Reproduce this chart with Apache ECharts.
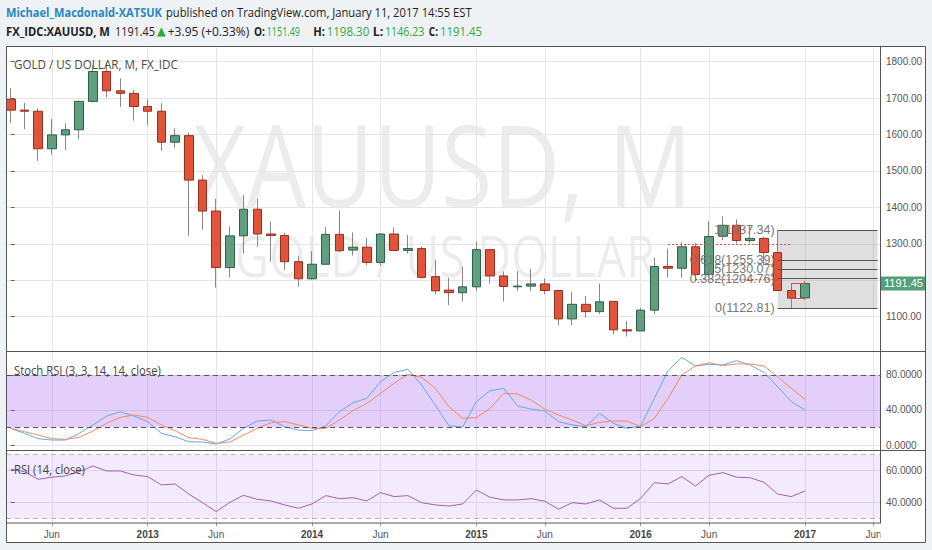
<!DOCTYPE html>
<html><head><meta charset="utf-8">
<script src="https://cdn.jsdelivr.net/npm/echarts@6/dist/echarts.min.js"></script>
<style>html,body{margin:0;padding:0;background:#eff2f5;}#c{width:932px;height:550px;}</style>
</head><body><div id="c"></div>
<script>
// ---------- data ----------
const months = ['2012-03','2012-04','2012-05','2012-06','2012-07','2012-08','2012-09','2012-10','2012-11','2012-12',
  '2013-01','2013-02','2013-03','2013-04','2013-05','2013-06','2013-07','2013-08','2013-09','2013-10','2013-11','2013-12',
  '2014-01','2014-02','2014-03','2014-04','2014-05','2014-06','2014-07','2014-08','2014-09','2014-10','2014-11','2014-12',
  '2015-01','2015-02','2015-03','2015-04','2015-05','2015-06','2015-07','2015-08','2015-09','2015-10','2015-11','2015-12',
  '2016-01','2016-02','2016-03','2016-04','2016-05','2016-06','2016-07','2016-08','2016-09','2016-10','2016-11','2016-12',
  '2017-01'];
const open  = [1697,1667,1664,1561,1599,1613,1691,1773,1720,1713, 1677,1664,1579,1597,1475,1390,1235,1322,1395,1327,1323,1251,
  1204,1244,1326,1283,1291,1249,1327,1282,1287,1210,1173,1166, 1182,1284,1212,1182,1184,1190,1172,1094,1134,1114,1142,1064,
  1061,1118,1238,1233,1292,1216,1321,1351,1309,1315,1276,1172, 1151.49];
const high  = [1727,1687,1672,1643,1631,1693,1790,1796,1754,1722, 1697,1686,1617,1606,1488,1424,1348,1434,1424,1361,1330,1267,
  1280,1346,1392,1331,1316,1330,1345,1324,1293,1256,1207,1238, 1307,1286,1224,1225,1232,1205,1174,1169,1157,1191,1143,1088,
  1124,1263,1287,1304,1303,1362,1375,1367,1352,1319,1337.34,1180, 1198.30];
const low   = [1631,1615,1528,1545,1557,1587,1688,1702,1676,1638, 1627,1555,1564,1322,1339,1180,1208,1273,1292,1251,1228,1182,
  1202,1243,1277,1268,1242,1240,1280,1273,1205,1161,1132,1142, 1170,1191,1142,1170,1170,1162,1077,1077,1098,1107,1052,1046,
  1061,1107,1208,1207,1199,1208,1310,1301,1302,1241,1171,1122.81, 1146.23];
const close = [1667,1664,1561,1599,1613,1691,1773,1720,1713,1677, 1664,1579,1597,1475,1390,1235,1322,1395,1327,1323,1251,1204,
  1244,1326,1281,1291,1249,1327,1282,1287,1208,1171,1166,1182, 1284,1212,1183,1184,1190,1172,1094,1134,1114,1141,1064,1061,
  1118,1238,1233,1292,1216,1320,1351,1309,1315,1276,1172,1151, 1191.45];
const stochK = [19,13.3,7.2,5.7,5.7,13.3,22.9,33,38,33, 26.7,13.3,9.5,3.8,3.4,1.1,6.9,19,27.4,28.6,
  21,17,16.4,21.7,38,48.4,53.3,72.4,83,86.5, 68.6,45.7,22,20.5,49.5,62,64.8,44.6,41,38.9,
  26.7,22.9,21,36.2,24.8,19,21.7,53.3,85,100, 90.3,92.2,91.4,96.4,91.4,83,66.7,49.5,40];
const stochD = [19,15.2,11.4,7.2,6.5,8.8,16,24.8,31.6,34.3, 31.6,22.9,16.4,8.4,6.5,1.9,3.4,11.4,19,25.5,
  26.7,22.9,19,19,28.6,39.2,47.6,59,70.5,80.8, 77.3,64.8,43.8,30.5,31.2,41.9,59,58.3,51.4,41,
  34.3,28.6,22,25.9,27.4,27.4,21,30.5,53.3,80, 90.3,94,90.7,92.6,92.6,90.3,78,64.8,52.2];
const rsi = [60.9,59.4,54.6,55.9,56.7,59.4,62.9,59.8,59.8,57.3, 56.3,51.1,51.7,45.4,40,34.4,40.2,44.6,42.1,41.1,
  38.6,36.5,39.2,44.4,42.5,43.1,41.1,46.3,43.8,44.4, 40,38.6,37.9,39.2,47.9,43.4,41.7,41.7,42.5,40.9,
  35.9,40,39.2,41.7,36.5,36.5,42.7,52.5,51.7,56.3, 50.4,57.1,58.8,55.9,55.6,52.7,45.4,43.8,47.3];
const tickMonths = ['2012-06','2013-01','2013-06','2014-01','2014-06','2015-01','2015-06','2016-01','2016-06','2017-01','2017-06'];
const tickTexts  = ['Jun','2013','Jun','2014','Jun','2015','Jun','2016','Jun','2017','Jun'];
const priceTicks = [1100,1200,1300,1400,1500,1600,1700,1800];
const priceLabels = [1100,1300,1400,1500,1600,1700,1800];
const stochTicks = [0,40,80];
const rsiTicks = [40,60];
const stochBand = [20,80];
const rsiBand = [30,70];
const fibLevels = ['1','0.618','0.5','0.382','0'];
const fibPrices = [1337.34,1255.39,1230.07,1204.76,1122.81];
const fibFrom = '2016-11';
const redDotted = [['2016-03','2016-12',1300],['2016-05','2016-11',1204]];
const redBox = ['2016-12','2017-01',1150.5,1191.7];
const lastPrice = 1191.45;

// ---------- helpers ----------
function mi(s){ const [y,m]=s.split('-').map(Number); return (y-2012)*12 + (m-3); }
const X_MIN = -0.348, X_MAX = 63.476;
const xs = months.map(mi);
const tickIdx = tickMonths.map(mi);
const wickData = xs.map((x,k)=>[x, open[k], close[k], low[k], high[k]]);
const bodyData = xs.map((x,k)=>[x, open[k], close[k], Math.min(open[k],close[k]), Math.max(open[k],close[k])]);

const mctx = document.createElement('canvas').getContext('2d');
function fitText(text, x0, x1, cy, size, weight, family, color, z){
  mctx.font = weight+' '+size+'px '+family;
  const w = mctx.measureText(text).width || 1;
  return {type:'text', x:x0, y:cy, scaleX:(x1-x0)/w, z:z, silent:true,
    style:{text:text, fontSize:size, fontWeight:weight, fontFamily:family, fill:color,
      align:'left', verticalAlign:'middle', textAlign:'left', textVerticalAlign:'middle'}};
}
const OS = 'Open Sans';
const LS = 'Liberation Sans';
const GREEN = '#33a83a';

const graphics = [
  {type:'rect', z:-100, silent:true, shape:{x:6,y:46,width:920,height:497}, style:{fill:'#ffffff'}},
  fitText('XAUUSD, M', 193, 692, 163, 113, 'normal', OS, 'rgba(0,0,0,0.075)', -50),
  fitText('GOLD / US DOLLAR', 235, 655, 255, 56, 'normal', OS, 'rgba(0,0,0,0.075)', -50),
  // header
  fitText('Michael_Macdonald-XATSUK', 6, 162, 12.5, 13, 'bold', OS, '#2b86c0', 50),
  fitText('published on TradingView.com, January 11, 2017 14:55 EST', 166, 472, 12.5, 13, 'normal', OS, '#222', 50),
  fitText('FX_IDC:XAUUSD, M', 6, 110, 31.3, 12, 'bold', OS, '#222', 50),
  fitText('1191.45', 115, 155, 31.3, 12, 'normal', OS, '#222', 50),
  fitText('\u25B2', 157, 165.7, 31.3, 12, 'normal', 'DejaVu Sans', GREEN, 50),
  fitText('+3.95 (+0.33%)', 167.7, 249.3, 31.3, 12, 'normal', OS, '#222', 50),
  fitText('O:', 254, 265, 31.3, 12, 'bold', OS, '#222', 50),
  fitText('1151.49', 266.7, 300, 31.3, 12, 'normal', OS, GREEN, 50),
  fitText('H:', 313.3, 325, 31.3, 12, 'bold', OS, '#222', 50),
  fitText('1198.30', 326.7, 369.3, 31.3, 12, 'normal', OS, GREEN, 50),
  fitText('L:', 372.7, 383.3, 31.3, 12, 'bold', OS, '#222', 50),
  fitText('1146.23', 385, 424.4, 31.3, 12, 'normal', OS, GREEN, 50),
  fitText('C:', 428.8, 438, 31.3, 12, 'bold', OS, '#222', 50),
  fitText('1191.45', 440, 482, 31.3, 12, 'normal', OS, GREEN, 50),
  // pane titles
  fitText('GOLD / US DOLLAR, M, FX_IDC', 14, 178, 64.2, 12, 'normal', OS, '#4a4a4a', 50),
  fitText('Stoch RSI (3, 3, 14, 14, close)', 14, 161, 369.7, 13, 'normal', OS, '#444', 50),
  fitText('RSI (14, close)', 14, 85, 468.7, 13, 'normal', OS, '#444', 50),
  // frame
  {type:'rect', z:40, silent:true, shape:{x:880.5,y:523.5,width:45,height:19}, style:{fill:'#fff'}},
  {type:'rect', z:50, silent:true, shape:{x:6.5,y:46.5,width:919,height:496}, style:{fill:'none', stroke:'#555', lineWidth:1}},
  {type:'line', z:50, silent:true, shape:{x1:6,y1:351.5,x2:926,y2:351.5}, style:{stroke:'#555', lineWidth:1}},
  {type:'line', z:50, silent:true, shape:{x1:6,y1:450.5,x2:926,y2:450.5}, style:{stroke:'#555', lineWidth:1}},
  {type:'line', z:50, silent:true, shape:{x1:880.5,y1:46,x2:880.5,y2:523}, style:{stroke:'#555', lineWidth:1}},
  {type:'line', z:50, silent:true, shape:{x1:6,y1:523,x2:881,y2:523}, style:{stroke:'#555', lineWidth:1}}
];

function xAxisOf(gi, showLabels){
  return {type:'value', gridIndex:gi, min:X_MIN, max:X_MAX,
    axisLine:{show:false},
    axisTick:{show:showLabels, customValues:tickIdx, length:3, lineStyle:{color:'#999'}},
    axisLabel:{show:showLabels, customValues:tickIdx, margin:6, color:'#555', fontSize:10, fontFamily:LS,
      formatter: v => { const k = tickIdx.indexOf(Math.round(v)); const t = k<0?'':tickTexts[k]; return /^\d{4}$/.test(t) ? '{y|'+t+'}' : t; },
      rich:{y:{fontWeight:'bold', fontSize:10, color:'#444', fontFamily:LS}}},
    splitLine:{show:true, lineStyle:{color:'#e6e6e6', width:1}}};
}
function yAxisOf(gi, min, max, ticks, labels, dec){
  return {type:'value', gridIndex:gi, position:'right', min:min, max:max,
    axisLine:{show:false},
    axisTick:{show:true, customValues:ticks, length:4, lineStyle:{color:'#666'}},
    axisLabel:{customValues:labels, margin:6, color:'#555', fontSize:10, fontFamily:LS, formatter: v => Number(v).toFixed(dec)},
    splitLine:{show:true, lineStyle:{color:'#e6e6e6', width:1}}};
}

const fibX0 = mi(fibFrom), fibX1 = 63.3;
const fibLines = fibPrices.map((p,k)=>[
  {coord:[fibX0,p], lineStyle:{color:'#555', width:1, type:'solid'},
   label:{show:true, position:'start', distance:3, formatter: fibLevels[k]+'('+p.toFixed(2)+')', color:'#777', fontSize:12.5, fontFamily:LS}},
  {coord:[fibX1,p]}]);
const redLines = redDotted.map(d=>[
  {coord:[mi(d[0]), d[2]], lineStyle:{color:'#e04848', width:1, type:[2,2]}, label:{show:false}},
  {coord:[mi(d[1]), d[2]]}]);
const bx0 = mi(redBox[0]), bx1 = mi(redBox[1]);
const boxLines = [
  [{coord:[bx0, redBox[2]], lineStyle:{color:'#e04848', width:1, type:'solid'}, label:{show:false}}, {coord:[bx1, redBox[2]]}],
  [{coord:[bx0, redBox[3]], lineStyle:{color:'#e04848', width:1, type:'solid'}, label:{show:false}}, {coord:[bx1, redBox[3]]}],
  [{coord:[bx0, redBox[2]], lineStyle:{color:'#e04848', width:1, type:'solid'}, label:{show:false}}, {coord:[bx0, redBox[3]]}]
];

const option = {
  backgroundColor:'#eff2f5',
  animation:false,
  textStyle:{fontFamily:LS},
  graphic:{elements:graphics},
  grid:[
    {left:6, top:46, width:874, height:305.7, outerBoundsMode:'none'},
    {left:6, top:351.7, width:874, height:98.3, outerBoundsMode:'none'},
    {left:6, top:450, width:874, height:73, outerBoundsMode:'none'}
  ],
  xAxis:[xAxisOf(0,false), xAxisOf(1,false), xAxisOf(2,true)],
  yAxis:[yAxisOf(0,1004,1843,priceTicks,priceLabels,2), yAxisOf(1,-5.7,106.6,stochTicks,stochTicks,4), yAxisOf(2,27.3,72.9,rsiTicks,rsiTicks,4)],
  series:[
    {type:'candlestick', name:'wick', xAxisIndex:0, yAxisIndex:0, data:wickData, encode:{x:0, y:[1,2,3,4]},
     barWidth:1, z:2, silent:true,
     itemStyle:{color:'#888', color0:'#888', borderColor:'#888', borderColor0:'#888', borderWidth:1},
     markArea:{silent:true, itemStyle:{color:'rgba(120,120,120,0.24)'},
       data:[[{coord:[fibX0, fibPrices[0]]},{coord:[fibX1, fibPrices[fibPrices.length-1]]}]]}},
    {type:'candlestick', name:'XAUUSD', xAxisIndex:0, yAxisIndex:0, data:bodyData, encode:{x:0, y:[1,2,3,4]},
     barWidth:9, z:3, silent:true,
     itemStyle:{color:'#5f9f7f', color0:'#e2533c', borderColor:'#2f5f48', borderColor0:'#93301f', borderWidth:1},
     markLine:{silent:true, symbol:['none','none'], animation:false,
       data: fibLines.concat(redLines, boxLines)}},
    {type:'line', name:'last', xAxisIndex:0, yAxisIndex:0, data:[], z:10, silent:true,
     markLine:{silent:true, symbol:['none','none'], animation:false,
       data:[{yAxis:lastPrice, lineStyle:{color:'rgba(0,0,0,0)', width:1, type:'solid'},
          label:{show:true, position:'end', distance:1, formatter:lastPrice.toFixed(2), backgroundColor:'#53a078',
                 color:'#ffffff', padding:[2,3,1,3], fontSize:11, fontFamily:LS, opacity:1}}]}},
    {type:'line', name:'K', xAxisIndex:1, yAxisIndex:1, data:xs.map((x,k)=>[x, stochK[k]]), showSymbol:false, symbol:'none',
     lineStyle:{color:'#64a6ee', width:1}, z:3, silent:true,
     markArea:{silent:true, itemStyle:{color:'rgba(139,55,235,0.24)'}, data:[[{yAxis:stochBand[0]},{yAxis:stochBand[1]}]]},
     markLine:{silent:true, symbol:['none','none'], label:{show:false}, lineStyle:{color:'#555', type:[5,4], width:1},
       data:[{yAxis:stochBand[1]},{yAxis:stochBand[0]}]}},
    {type:'line', name:'D', xAxisIndex:1, yAxisIndex:1, data:xs.map((x,k)=>[x, stochD[k]]), showSymbol:false, symbol:'none',
     lineStyle:{color:'#ef8a62', width:1}, z:4, silent:true},
    {type:'line', name:'RSI', xAxisIndex:2, yAxisIndex:2, data:xs.map((x,k)=>[x, rsi[k]]), showSymbol:false, symbol:'none',
     lineStyle:{color:'#a160b6', width:1}, z:3, silent:true,
     markArea:{silent:true, itemStyle:{color:'rgba(155,63,238,0.11)'}, data:[[{yAxis:rsiBand[0]},{yAxis:rsiBand[1]}]]},
     markLine:{silent:true, symbol:['none','none'], label:{show:false}, lineStyle:{color:'#b8b8b8', type:[5,4], width:1},
       data:[{yAxis:rsiBand[1]},{yAxis:rsiBand[0]}]}}
  ]
};
const chart = echarts.init(document.getElementById('c'), null, {renderer:'svg'});
chart.setOption(option);
</script>
</body></html>
